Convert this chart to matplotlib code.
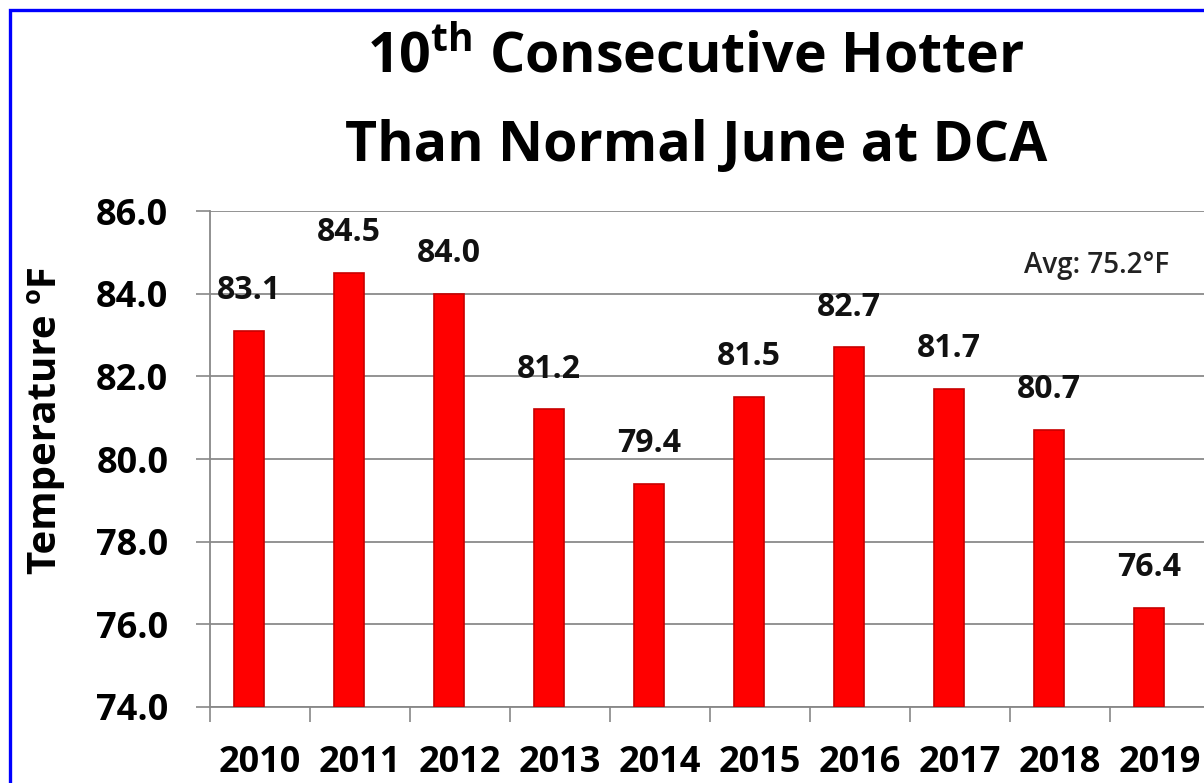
import matplotlib
matplotlib.use("Agg")
import matplotlib.pyplot as plt
from matplotlib.patches import Rectangle
import numpy as np

years = ["2010", "2011", "2012", "2013", "2014", "2015", "2016", "2017", "2018", "2019"]
temps = [83.1, 84.5, 84.0, 81.2, 79.4, 81.5, 82.7, 81.7, 80.7, 76.4]
yticks = [74.0, 76.0, 78.0, 80.0, 82.0, 84.0, 86.0]
title_line1 = r"10$^{\mathbf{th}}$ Consecutive Hotter"
title_line2 = "Than Normal June at DCA"
ylabel = "Temperature ºF"
avg_text = "Avg: 75.2°F"

plt.rcParams['font.family'] = ['Open Sans', 'DejaVu Sans']
plt.rcParams['mathtext.fontset'] = 'custom'
plt.rcParams['mathtext.rm'] = 'Open Sans'
plt.rcParams['mathtext.bf'] = 'Open Sans:bold'

W, H = 1204, 783
fig = plt.figure(figsize=(W / 100, H / 100), dpi=100)
fig.patch.set_facecolor("white")

ax = fig.add_axes([210 / W, 1 - 707 / H, 1000 / W, (707 - 211) / H])
x = np.arange(len(years))
offset = -0.11
ax.bar(x + offset, [t - 74 for t in temps], bottom=74, width=0.3,
       color="#FF0000", edgecolor="#C80000", linewidth=1.2, zorder=3)

for xi, t in zip(x, temps):
    ax.annotate(f"{t:.1f}", (xi + offset, t), xytext=(0, 29), textcoords="offset points",
                ha="center", va="center", fontsize=23, fontweight="bold", color="#111111")

ax.set_xlim(-0.5, len(years) - 0.5)
ax.set_ylim(74, 86)
ax.set_yticks(yticks)
ax.set_yticklabels([f"{v:.1f}" for v in yticks], fontsize=26, fontweight="bold")
ax.set_xticks(x)
ax.set_xticklabels(years, fontsize=26, fontweight="bold")
ax.set_xticks(np.arange(len(years) + 1) - 0.5, minor=True)
ax.tick_params(axis="x", which="major", length=0, pad=27)
ax.tick_params(axis="x", which="minor", length=11, width=1.2, color="#888888", direction="out")
ax.tick_params(axis="y", length=10, width=1.2, color="#888888", direction="out", pad=20)
ax.yaxis.grid(True, color="#8a8a8a", linewidth=1.3, zorder=0)
ax.set_axisbelow(True)
for s in ["top", "right"]:
    ax.spines[s].set_visible(False)
for s in ["left", "bottom"]:
    ax.spines[s].set_color("#888888")
    ax.spines[s].set_linewidth(1.3)

fig.text(46 / W, 1 - 420 / H, ylabel, rotation=90, ha="center", va="center",
         fontsize=29, fontweight="bold")
fig.text(696 / W, 1 - 57 / H, title_line1, ha="center", va="center",
         fontsize=40, fontweight="bold")
fig.text(696 / W, 1 - 146 / H, title_line2, ha="center", va="center",
         fontsize=40, fontweight="bold")
fig.text(1097 / W, 1 - 265 / H, avg_text, ha="center", va="center",
         fontsize=20, fontweight="semibold", color="#222222")

fig.patches.append(Rectangle((9.5 / W, -0.2), 2.0, (H - 9.5) / H + 0.2,
                             transform=fig.transFigure, fill=False,
                             edgecolor="#0000FF", linewidth=2.4, zorder=10))

fig.savefig("out.png", dpi=100)
